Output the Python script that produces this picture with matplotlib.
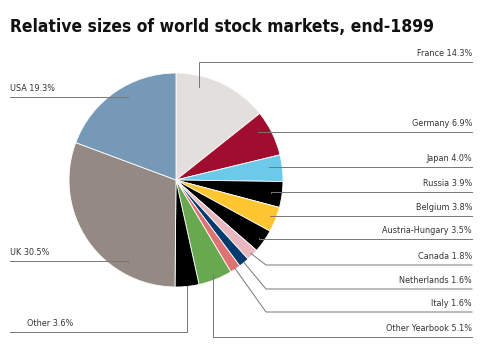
import numpy as np
import matplotlib
matplotlib.use("Agg")
import matplotlib.pyplot as plt

plt.rcParams["font.family"] = ["DejaVu Sans"]
plt.rcParams["font.stretch"] = "condensed"

markets = ["France", "Germany", "Japan", "Russia", "Belgium", "Austria-Hungary",
           "Canada", "Netherlands", "Italy", "Other Yearbook", "Other", "UK", "USA"]
shares = [14.3, 6.9, 4.0, 3.9, 3.8, 3.5, 1.8, 1.6, 1.6, 5.1, 3.6, 30.5, 19.3]
colors = ["#e2dfdc", "#a00d2f", "#6cc9ea", "#000000", "#fdc630", "#000000",
          "#e9b8bf", "#003b6d", "#df7272", "#68a950", "#000000", "#958a83", "#7799b8"]

# layout of the call-out lines (pixel rows, from the top)
label_y = [62, 132, 167, 192, 216, 239, 265, 289, 312, 337, 332, 261, 97]
side = ["r"] * 10 + ["l"] * 3
anchor_frac = [0.27, 0.33, 0.39, 0.5, 0.46, 0.5, 0.5, 0.5, 0.5, 0.5, 0.5, 0.27, 0.57]
anchor_r = [0.9, 0.89, 0.88, 0.9, 0.94, 0.95, 0.98, 1.0, 0.99, 0.95, 1.0, 0.89, 0.9]
elbow_x = [None] * 6 + [266, 266, 266] + [None] * 4
text_x = {"r": 472, "l": 10}

W, H = 480, 360
cx, cy, R = 176, 180, 107

fig = plt.figure(figsize=(4.8, 3.6), dpi=100)
ax = fig.add_axes([0, 0, 1, 1])

wedges, _ = ax.pie(shares, colors=colors, startangle=90, counterclock=False,
                   center=(cx, H - cy), radius=R,
                   wedgeprops=dict(edgecolor="white", linewidth=0.6))
ax.set_xlim(0, W)
ax.set_ylim(0, H)
ax.set_aspect("equal")
ax.axis("off")

for i, w in enumerate(wedges):
    ang = np.deg2rad(w.theta2 - anchor_frac[i] * (w.theta2 - w.theta1))
    ax_x = cx + anchor_r[i] * R * np.cos(ang)
    ax_y = (H - cy) + anchor_r[i] * R * np.sin(ang)
    ly = H - label_y[i]
    ex = ax_x if elbow_x[i] is None else elbow_x[i]
    end = text_x[side[i]]
    ax.plot([ax_x, ex, end], [ax_y, ly, ly], color="#777777", lw=0.7,
            solid_joinstyle="miter", zorder=5)
    txt = f"{markets[i]} {shares[i]:.1f}%"
    if side[i] == "r":
        ax.text(end, ly + 4, txt, ha="right", va="bottom", fontsize=6.5, color="#333333")
    else:
        tx = 27 if markets[i] == "Other" else end
        ax.text(tx, ly + 4, txt, ha="left", va="bottom", fontsize=6.5, color="#333333")

ax.text(10, H - 27, "Relative sizes of world stock markets, end-1899", ha="left",
        va="center", fontsize=12.5, fontweight="bold", color="#111111")

fig.savefig("out.png", dpi=100)
